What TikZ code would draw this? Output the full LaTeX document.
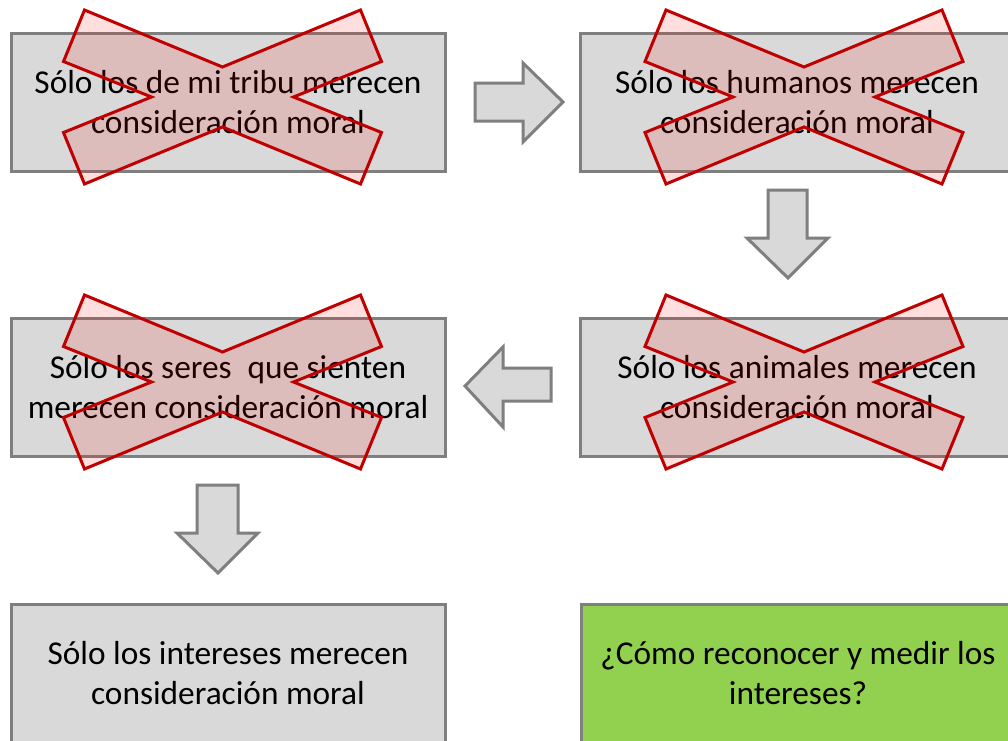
\documentclass[tikz,border=0pt]{standalone}
\usepackage{fontspec}
\setmainfont{Carlito}
\definecolor{boxfill}{HTML}{D9D9D9}
\definecolor{boxline}{HTML}{7F7F7F}
\definecolor{crossline}{HTML}{C00000}
\definecolor{okfill}{HTML}{92D050}
\tikzset{
  box/.style={draw=boxline, line width=2.25pt, fill=boxfill, minimum width=325.5pt,
    minimum height=103.5pt, inner sep=0pt, outer sep=0pt, align=center,
    font=\fontsize{25}{30}\selectfont, text=black},
  okbox/.style={box, fill=okfill},
  blockarrow/.style={draw=boxline, line width=2.25pt, fill=boxfill, line join=miter},
  crossmark/.style={draw=crossline, line width=2.25pt, fill=red, fill opacity=0.13,
    draw opacity=1, line join=miter},
  pics/cross/.style={code={
    \draw[crossmark] (-138,-87) -- (0,-30) -- (138,-87) -- (159,-35.5) -- (71,0)
      -- (159,35.5) -- (138,87) -- (0,30) -- (-138,87) -- (-159,35.5) -- (-71,0)
      -- (-159,-35.5) -- cycle;}}
}
\begin{document}
\begin{tikzpicture}[x=0.75pt,y=-0.75pt]
\useasboundingbox (0,0) rectangle (1008,740);
\fill[white] (0,0) rectangle (1008,740);
\clip (0,0) rectangle (1008,740);

% boxes
\node[box] (b1) at (228,102) {Sólo los de mi tribu merecen\\consideración moral};
\node[box] (b2) at (797,102) {Sólo los humanos merecen\\consideración moral};
\node[box] (b3) at (797,387) {Sólo los animales merecen\\consideración moral};
\node[box] (b4) at (228,387) {Sólo los seres\hspace{0.25em} que sienten\\merecen consideración moral};
\node[box] (b5) at (228,673) {Sólo los intereses merecen\\consideración moral};
\node[okbox] (b6) at (798,673) {¿Cómo reconocer y medir los\\intereses?};

% crosses
\pic at (222.5,97) {cross};
\pic at (804,97) {cross};
\pic at (804,382) {cross};
\pic at (222.5,382) {cross};

% block arrows
\draw[blockarrow] (475,83) -- (523,83) -- (523,63) -- (563,102) -- (523,142) -- (523,121) -- (475,121) -- cycle;
\draw[blockarrow] (768,190) -- (807,190) -- (807,238) -- (828,238) -- (788,278) -- (747,238) -- (768,238) -- cycle;
\draw[blockarrow] (551,368) -- (503,368) -- (503,347) -- (465,386) -- (503,427) -- (503,401) -- (551,401) -- cycle;
\draw[blockarrow] (197,485) -- (238,485) -- (238,533) -- (258,533) -- (218,573) -- (177,533) -- (197,533) -- cycle;
\end{tikzpicture}
\end{document}
